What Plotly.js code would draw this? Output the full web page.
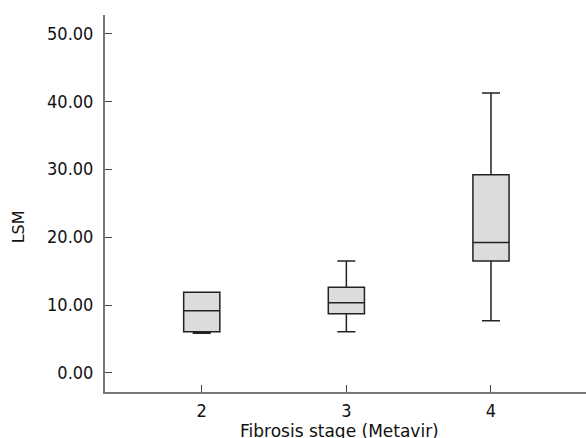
<!DOCTYPE html>
<html>
<head>
<meta charset="utf-8">
<script src="https://cdn.plot.ly/plotly-3.0.1.min.js"></script>
<style>html,body{margin:0;padding:0;background:#fff;}#chart{width:586px;height:438px;}</style>
</head>
<body>
<div id="chart"></div>
<script>
var stages = [2, 3, 4];
var stageLabels = ['2', '3', '4'];
var lowerWhisker = [5.83, 6.07, 7.69];
var q1 = [6.07, 8.72, 16.47];
var medians = [9.16, 10.34, 19.22];
var q3 = [11.87, 12.6, 29.16];
var upperWhisker = [11.9, 16.5, 41.22];
var yTicks = [0, 10, 20, 30, 40, 50];

var trace = {
  type: 'box',
  x: stages,
  q1: q1,
  median: medians,
  q3: q3,
  lowerfence: lowerWhisker,
  upperfence: upperWhisker,
  width: 0.25,
  whiskerwidth: 0.5,
  fillcolor: '#dcdcdc',
  line: {color: '#222222', width: 1.5},
  boxpoints: false,
  hoverinfo: 'skip',
  showlegend: false
};

var fam = 'DejaVu Sans Condensed, DejaVu Sans, sans-serif';
var famT = 'DejaVu Sans, Verdana, sans-serif';
var font = {family: fam, size: 18, color: '#111'};

var layout = {
  width: 586, height: 438,
  margin: {l: 105, r: 0, t: 15, b: 46, pad: 0},
  paper_bgcolor: '#fff', plot_bgcolor: '#fff',
  font: font,
  showlegend: false,
  xaxis: {
    range: [1.331, 4.657],
    tickvals: stages, ticktext: stageLabels,
    ticks: 'inside', ticklen: 7, tickwidth: 1, tickcolor: '#444',
    showline: true, linecolor: '#777', linewidth: 2,
    showgrid: false, zeroline: false,
    tickfont: font,
    ticklabelstandoff: 1
  },
  yaxis: {
    range: [-2.80, 52.69],
    tickvals: yTicks, tickformat: '.2f',
    ticks: 'inside', ticklen: 7, tickwidth: 1, tickcolor: '#444',
    showline: true, linecolor: '#777', linewidth: 2,
    showgrid: false, zeroline: false,
    tickfont: font,
    ticklabelstandoff: 6
  },
  annotations: [{
    text: 'LSM', xref: 'paper', yref: 'paper',
    x: -0.178, y: 0.4377, xanchor: 'center', yanchor: 'middle',
    textangle: -90, showarrow: false,
    font: {family: famT, size: 16, color: '#111'}
  }, {
    text: 'Fibrosis stage (Metavir)', xref: 'paper', yref: 'paper',
    x: 0.488, y: -0.0716, xanchor: 'center', yanchor: 'top',
    showarrow: false,
    font: {family: famT, size: 17, color: '#111'}
  }]
};

Plotly.newPlot('chart', [trace], layout, {displayModeBar: false, staticPlot: true});
</script>
</body>
</html>
